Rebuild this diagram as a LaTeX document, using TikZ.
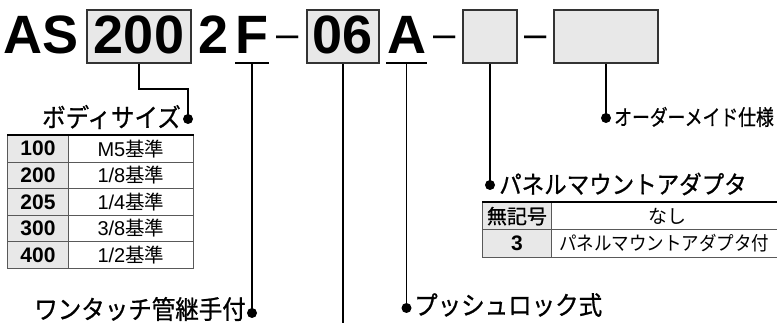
\documentclass[tikz,border=0pt]{standalone}
\usepackage{fontspec}
\usepackage{graphicx}
\setmainfont{Liberation Sans}
\newfontfamily\jp{Noto Sans CJK JP}
\newfontfamily\jpm[FakeBold=0.8]{Noto Sans CJK JP}
\newcommand{\J}[1]{{\jp #1}}
\newcommand{\tall}[1]{\scalebox{1}[1.1]{#1}}
\begin{document}
\begin{tikzpicture}[x=1pt,y=-1pt,
  pbox/.style={draw=black!80, line width=1.6pt, fill=black!9, inner sep=0pt,
    minimum height=53pt, text height=38pt, text depth=3pt,
    font=\fontsize{54}{54}\selectfont\bfseries},
  big/.style={inner sep=0pt, anchor=base, font=\fontsize{54}{54}\selectfont\bfseries},
  dsh/.style={inner sep=0pt, anchor=base, font=\fontsize{40}{40}\selectfont},
  uline/.style={line width=1.5pt},
  conn/.style={line width=1.5pt},
  bullet/.style={circle, fill=black, inner sep=0pt, minimum size=10pt},
  lab/.style={inner sep=0pt, font=\fontsize{23.5}{23.5}\selectfont\jpm},
  labs/.style={inner sep=0pt, font=\fontsize{18}{18}\selectfont\jpm},
  ca/.style={draw=black!65, line width=0.9pt, fill=black!9, inner sep=0pt,
    font=\fontsize{21}{21}\selectfont\bfseries},
  cb/.style={draw=black!65, line width=0.9pt, fill=white, inner sep=0pt,
    font=\fontsize{20}{20}\selectfont},
  thick top/.style={line width=2.2pt}
]
\useasboundingbox (0,0) rectangle (777,323);

% part number
\node[big] (AS) at (41,54) {AS};
\node[pbox, minimum width=104pt] (b200) at (139,36.5) {200};
\node[big] (n2) at (213.5,54) {2};
\node[big] (F) at (252,54) {F};
\node[dsh] (d1) at (287.5,48) {–};
\node[pbox, minimum width=72pt] (b06) at (343,36.5) {06};
\node[big] (A) at (406.5,54) {A};
\node[dsh] (d2) at (444.5,48) {–};
\node[pbox, minimum width=54pt] (b3) at (490,36.5) {};
\node[dsh] (d3) at (536,48) {–};
\node[pbox, minimum width=104pt] (b4) at (606,36.5) {};

% underlines
\draw[uline] (235,63) -- (269,63);
\draw[uline] (386,63) -- (427,63);
\coordinate (Fu) at (252,63);
\coordinate (Au) at (406.5,63);
\coordinate (bottom06) at (343,326);

% bullets
\node[bullet] (pBody) at (188,119) {};
\node[bullet] (pF) at (252,313) {};
\node[bullet] (pA) at (406.5,308) {};
\node[bullet] (p3) at (490,185) {};
\node[bullet] (p4) at (606,118) {};

% connectors
\draw[conn] (b200.south) -- ++(0,25) -| (pBody.center);
\draw[conn] (Fu) -- (pF.center);
\draw[conn] (b06.south) -- (bottom06);
\draw[conn] (Au) -- (pA.center);
\draw[conn] (b3.south) -- (p3.center);
\draw[conn] (b4.south) -- (p4.center);

% labels
\node[lab, anchor=east] (lBody) at (181,117) {\tall{ボディサイズ}};
\node[lab, anchor=east] (lF) at (246,309) {\tall{ワンタッチ管継手付}};
\node[lab, anchor=west] (lA) at (414,305) {\tall{プッシュロック式}};
\node[lab, anchor=west, font=\fontsize{22.5}{22.5}\selectfont\jpm] (l3) at (499,184) {\tall{パネルマウントアダプタ}};
\node[labs, anchor=west] (l4) at (614,117) {\scalebox{0.99}[1.2]{オーダーメイド仕様}};

% body size table
\foreach \k/\c/\t [count=\i from 0] in {100/M5/1,200/1\slash 8/2,205/1\slash 4/3,300/3\slash 8/4,400/1\slash 2/5}{
  \node[ca, minimum width=61pt, minimum height=26.6pt, anchor=north west] (ta\t) at (7,135+26.6*\i) {\k};
  \node[cb, minimum width=125pt, minimum height=26.6pt, anchor=north west] (tb\t) at (68,135+26.6*\i) {\c{\fontsize{19.5}{19.5}\jp 基準}};
}
\draw[thick top] (ta1.north west) -- (tb1.north east);

% panel mount table
\node[ca, minimum width=69pt, minimum height=27.3pt, anchor=north west, font=\fontsize{20}{20}\selectfont\jpm] (pa1) at (482,202) {無記号};
\node[cb, minimum width=232pt, minimum height=27.3pt, anchor=north west, font=\fontsize{19}{19}\selectfont\jp] (pb1) at (551,202) {なし};
\node[ca, minimum width=69pt, minimum height=27.3pt, anchor=north west] (pa2) at (482,229.3) {3};
\node[cb, minimum width=232pt, minimum height=27.3pt, anchor=north west, font=\fontsize{17.5}{17.5}\selectfont\jp] (pb2) at (551,229.3) {\hspace*{-6pt}\scalebox{1}[1.1]{パネルマウントアダプタ付}};
\draw[thick top] (pa1.north west) -- (pb1.north east);
\end{tikzpicture}
\end{document}
